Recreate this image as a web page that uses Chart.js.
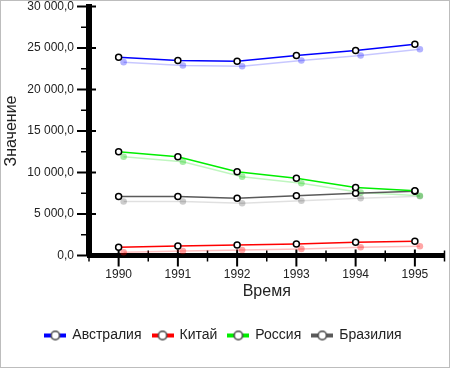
<!DOCTYPE html>
<html>
<head>
<meta charset="utf-8">
<script src="https://cdn.jsdelivr.net/npm/chart.js@4.4.1/dist/chart.umd.min.js"></script>
<style>
  html, body { margin: 0; padding: 0; background: #fff; }
  #wrap { width: 450px; height: 368px; position: relative; }
</style>
</head>
<body>
<div id="wrap"><canvas id="chart"></canvas></div>
<script>
const years = ['1990', '1991', '1992', '1993', '1994', '1995'];
const australia = [23900, 23500, 23400, 24100, 24700, 25450];
const china = [1000, 1150, 1270, 1400, 1600, 1720];
const russia = [12500, 11900, 10100, 9300, 8200, 7800];
const brazil = [7100, 7100, 6900, 7200, 7500, 7750];
const seriesNames = ['Австралия', 'Китай', 'Россия', 'Бразилия'];
const seriesColors = ['#0000ff', '#ff0000', '#00ee00', '#5a5a5a'];
const shadowLines = ['rgba(0,0,255,0.22)', 'rgba(255,0,0,0.25)', 'rgba(0,220,0,0.25)', 'rgba(0,0,0,0.12)'];
const shadowPoints = ['rgba(0,0,255,0.3)', 'rgba(255,0,0,0.35)', 'rgba(0,200,0,0.35)', 'rgba(0,0,0,0.2)'];
const yMax = 30000;
const yStep = 5000;

const FONT = '"Liberation Sans", Arial, Helvetica, sans-serif';
const values = [australia, china, russia, brazil];

function fmt(v) {
  return Math.round(v).toString().replace(/\B(?=(\d{3})+(?!\d))/g, ' ') + ',0';
}

function legendMark(color) {
  const c = document.createElement('canvas');
  c.width = 22; c.height = 12;
  const g = c.getContext('2d');
  g.fillStyle = color;
  g.fillRect(0, 4, 22, 4);
  g.beginPath();
  g.arc(11, 6, 4.2, 0, Math.PI * 2);
  g.fillStyle = '#fff';
  g.fill();
  g.lineWidth = 1.5;
  g.strokeStyle = '#444';
  g.stroke();
  return c;
}
const legendMarks = seriesColors.map(legendMark);

const mainSets = values.map((data, i) => ({
  label: seriesNames[i],
  data: data,
  borderColor: seriesColors[i],
  borderWidth: 1.5,
  pointRadius: 3,
  pointBackgroundColor: '#fff',
  pointBorderColor: '#000',
  pointBorderWidth: 1.5,
  tension: 0,
  clip: false
}));

const shadowSets = values.map((data, i) => ({
  label: seriesNames[i] + ' shadow',
  isShadow: true,
  data: data,
  borderColor: shadowLines[i],
  borderWidth: 1.5,
  pointRadius: 3.3,
  pointBackgroundColor: shadowPoints[i],
  pointBorderWidth: 0,
  tension: 0,
  clip: false
}));

const shadowShift = {
  id: 'shadowShift',
  beforeDatasetDraw(chart, args) {
    if (chart.data.datasets[args.index].isShadow) {
      chart.ctx.save();
      chart.ctx.translate(5, 5);
    }
  },
  afterDatasetDraw(chart, args) {
    if (chart.data.datasets[args.index].isShadow) chart.ctx.restore();
  }
};

const axisTicks = {
  id: 'axisTicks',
  beforeDatasetsDraw(chart) {
    const { ctx, chartArea: a, scales: { x, y } } = chart;
    ctx.save();
    ctx.strokeStyle = '#000';
    for (let v = 0; v <= yMax; v += yStep / 2) {
      const py = y.getPixelForValue(v);
      const major = v % yStep === 0;
      ctx.lineWidth = major ? 2 : 1.5;
      ctx.beginPath();
      ctx.moveTo(a.left - (major ? 12 : 8), py);
      ctx.lineTo(a.left + (major ? 7 : 2), py);
      ctx.stroke();
    }
    for (let i = -0.5; i <= years.length - 0.5; i += 0.5) {
      const px = x.getPixelForValue(i);
      const major = Number.isInteger(i);
      ctx.lineWidth = major ? 2 : 1.5;
      ctx.beginPath();
      ctx.moveTo(px, a.bottom - (major ? 6 : 5));
      ctx.lineTo(px, a.bottom + (major ? 11 : 6));
      ctx.stroke();
    }
    ctx.restore();
  }
};

const frame = {
  id: 'frame',
  afterDraw(chart) {
    const ctx = chart.ctx;
    ctx.save();
    ctx.strokeStyle = '#bdbdbd';
    ctx.lineWidth = 1;
    ctx.strokeRect(0.5, 0.5, chart.width - 1, chart.height - 1);
    ctx.restore();
  }
};

new Chart(document.getElementById('chart'), {
  type: 'line',
  data: { labels: years, datasets: mainSets.concat(shadowSets) },
  options: {
    responsive: true,
    maintainAspectRatio: false,
    animation: false,
    layout: { padding: { top: 0, right: 3, left: 0, bottom: 15.5 } },
    plugins: {
      tooltip: { enabled: false },
      legend: {
        position: 'bottom',
        labels: {
          usePointStyle: true,
          pointStyleWidth: 20,
          padding: 11,
          color: '#222',
          font: { family: FONT, size: 14 },
          generateLabels: () => seriesNames.map((n, i) => ({
            text: n,
            pointStyle: legendMarks[i],
            fillStyle: seriesColors[i],
            strokeStyle: seriesColors[i],
            lineWidth: 0,
            hidden: false,
            datasetIndex: i,
            fontColor: '#222'
          }))
        }
      }
    },
    scales: {
      x: {
        offset: true,
        grid: { drawOnChartArea: false, color: 'transparent', tickLength: 8 },
        border: { display: true, color: '#000', width: 5 },
        ticks: { color: '#222', padding: 4, font: { family: FONT, size: 12 }, maxRotation: 0 },
        title: { display: true, text: 'Время', color: '#222', padding: { top: 0, bottom: 16 }, font: { family: FONT, size: 16 } },
        afterFit: s => { s.height = 62; }
      },
      y: {
        min: 0,
        max: yMax,
        grid: { drawOnChartArea: false, color: 'transparent', tickLength: 8 },
        border: { display: true, color: '#000', width: 6 },
        ticks: { stepSize: yStep, color: '#222', padding: 7, font: { family: FONT, size: 12 }, callback: v => fmt(v) },
        title: { display: true, text: 'Значение', color: '#222', padding: { top: 2, bottom: 0 }, font: { family: FONT, size: 16 } },
        afterFit: s => { s.width = 89; s.paddingTop = 6.5; s.paddingBottom = 0; }
      }
    }
  },
  plugins: [shadowShift, axisTicks, frame]
});
</script>
</body>
</html>
